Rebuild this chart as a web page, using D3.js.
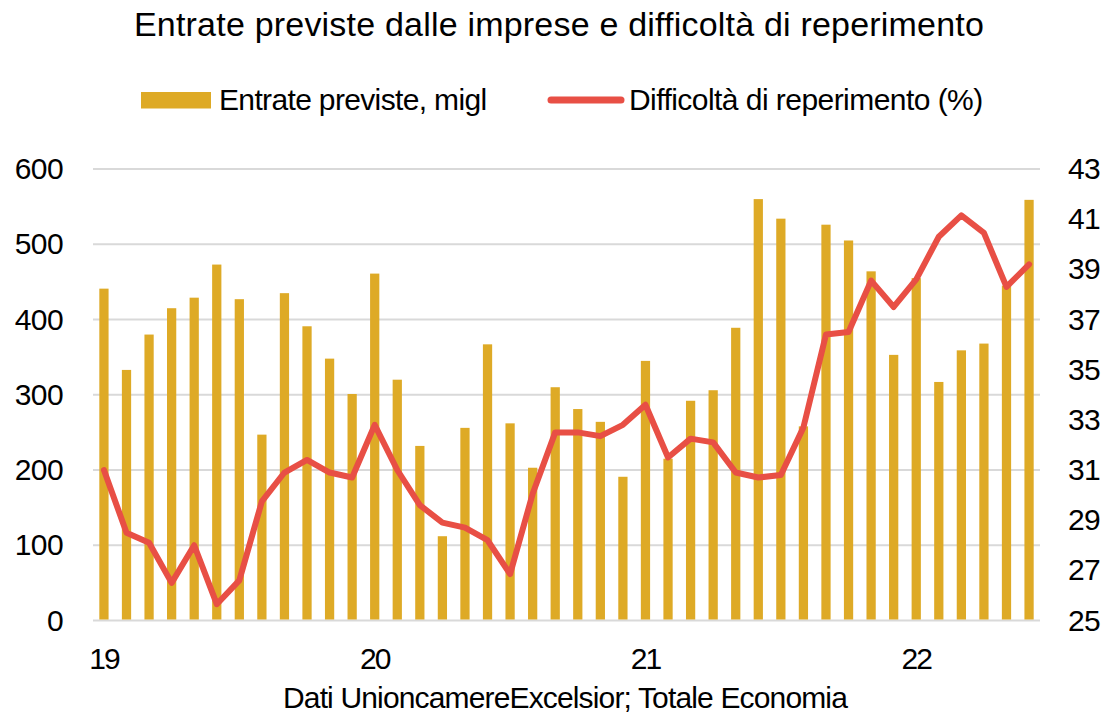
<!DOCTYPE html>
<html>
<head>
<meta charset="utf-8">
<script src="https://cdn.jsdelivr.net/npm/d3@7"></script>
<style>
  body { margin: 0; background: #fff; }
  svg text { font-family: "Liberation Sans", Arial, sans-serif; fill: #000; }
</style>
</head>
<body>
<div id="graph"></div>
<script>
// months, Jan 2019 .. Jun 2022
var months = [
  "2019-01","2019-02","2019-03","2019-04","2019-05","2019-06","2019-07","2019-08","2019-09","2019-10","2019-11","2019-12",
  "2020-01","2020-02","2020-03","2020-04","2020-05","2020-06","2020-07","2020-08","2020-09","2020-10","2020-11","2020-12",
  "2021-01","2021-02","2021-03","2021-04","2021-05","2021-06","2021-07","2021-08","2021-09","2021-10","2021-11","2021-12",
  "2022-01","2022-02","2022-03","2022-04","2022-05","2022-06"
];

// Entrate previste, migl
var entrate = [
  441, 333, 380, 415, 429, 473, 427, 247, 435, 391, 348, 301,
  461, 320, 232, 112, 256, 367, 262, 203, 310, 281, 264, 191,
  345, 215, 292, 306, 389, 560, 534, 258, 526, 505, 464, 353,
  455, 317, 359, 368, 445, 559
];

// Difficolta di reperimento (%)
var difficolta = [
  31.0, 28.5, 28.1, 26.5, 28.0, 25.65, 26.6, 29.75, 30.9, 31.4, 30.9, 30.7,
  32.8, 31.0, 29.6, 28.9, 28.7, 28.2, 26.85, 30.05, 32.5, 32.5, 32.35, 32.8,
  33.6, 31.5, 32.25, 32.1, 30.9, 30.7, 30.8, 32.7, 36.4, 36.5, 38.55, 37.5,
  38.6, 40.3, 41.15, 40.45, 38.3, 39.2
];

var xTickMonths = ["2019-01", "2020-01", "2021-01", "2022-01"];
var xTickLabels = ["19", "20", "21", "22"];
var leftTicks = [0, 100, 200, 300, 400, 500, 600];
var rightTicks = [25, 27, 29, 31, 33, 35, 37, 39, 41, 43];

var title = "Entrate previste dalle imprese e difficoltà di reperimento";
var legendBar = "Entrate previste, migl";
var legendLine = "Difficoltà di reperimento (%)";
var source = "Dati UnioncamereExcelsior; Totale Economia";

var width = 1105, height = 720;
var plot = { left: 93, right: 1040, top: 169, bottom: 620.5 };
var barColor = "#DEAA26";
var lineColor = "#E84F45";
var gridColor = "#D9D9D9";
var labelFont = "30px";

var svg = d3.select("#graph").append("svg")
    .attr("width", width)
    .attr("height", height);

var xScale = d3.scaleBand()
    .domain(months)
    .range([plot.left, plot.right])
    .paddingInner(0.59)
    .paddingOuter(0.28);

var yLeft = d3.scaleLinear()
    .domain([0, 600])
    .range([plot.bottom, plot.top]);

var yRight = d3.scaleLinear()
    .domain([25, 43])
    .range([plot.bottom, plot.top]);

// Horizontal grid lines
svg.selectAll("line.horizontalGrid")
    .data(leftTicks)
    .enter()
    .append("line")
    .attr("class", "horizontalGrid")
    .attr("x1", plot.left)
    .attr("x2", plot.right)
    .attr("y1", function(d){ return yLeft(d); })
    .attr("y2", function(d){ return yLeft(d); })
    .attr("stroke", gridColor)
    .attr("stroke-width", 2);

// Bars
svg.selectAll("rect.bar")
    .data(entrate)
    .enter()
    .append("rect")
    .attr("class", "bar")
    .attr("x", function(d, i){ return xScale(months[i]); })
    .attr("width", xScale.bandwidth())
    .attr("y", function(d){ return yLeft(d); })
    .attr("height", function(d){ return yLeft(0) - yLeft(d) - 1; })
    .attr("fill", barColor);

// Line
var line = d3.line()
    .x(function(d, i){ return xScale(months[i]) + xScale.bandwidth() / 2; })
    .y(function(d){ return yRight(d); });

svg.append("path")
    .datum(difficolta)
    .attr("d", line)
    .attr("fill", "none")
    .attr("stroke", lineColor)
    .attr("stroke-width", 6)
    .attr("stroke-linejoin", "round")
    .attr("stroke-linecap", "round");

// Left axis
var leftAxis = svg.append("g")
    .attr("transform", "translate(" + plot.left + ",0)")
    .call(d3.axisLeft(yLeft).tickValues(leftTicks).tickSize(0).tickPadding(30));
leftAxis.select(".domain").remove();
leftAxis.selectAll("text")
    .style("font-size", labelFont)
    .style("letter-spacing", "-0.6px")
    .style("font-family", "Liberation Sans, Arial, sans-serif");

// Right axis
var rightAxis = svg.append("g")
    .attr("transform", "translate(" + plot.right + ",0)")
    .call(d3.axisRight(yRight).tickValues(rightTicks).tickSize(0).tickPadding(28));
rightAxis.select(".domain").remove();
rightAxis.selectAll("text")
    .style("font-size", labelFont)
    .style("letter-spacing", "-0.6px")
    .style("font-family", "Liberation Sans, Arial, sans-serif");

// X axis labels
svg.selectAll("text.xlabel")
    .data(xTickMonths)
    .enter()
    .append("text")
    .attr("class", "xlabel")
    .attr("x", function(d){ return xScale(d) + xScale.bandwidth() / 2; })
    .attr("y", 669)
    .style("text-anchor", "middle")
    .style("font-size", labelFont)
    .style("letter-spacing", "-2px")
    .text(function(d, i){ return xTickLabels[i]; });

// Title
svg.append("text")
    .attr("x", 559)
    .attr("y", 36)
    .style("text-anchor", "middle")
    .style("font-size", "34px")
    .style("letter-spacing", "0.2px")
    .text(title);

// Legend
svg.append("rect")
    .attr("x", 141)
    .attr("y", 92)
    .attr("width", 70)
    .attr("height", 16.5)
    .attr("fill", barColor);

svg.append("text")
    .attr("x", 219)
    .attr("y", 110)
    .style("font-size", labelFont)
    .style("letter-spacing", "-0.65px")
    .text(legendBar);

svg.append("line")
    .attr("x1", 551)
    .attr("x2", 621)
    .attr("y1", 100)
    .attr("y2", 100)
    .attr("stroke", lineColor)
    .attr("stroke-width", 7)
    .attr("stroke-linecap", "round");

svg.append("text")
    .attr("x", 629)
    .attr("y", 110)
    .style("font-size", labelFont)
    .style("letter-spacing", "-0.55px")
    .text(legendLine);

// Source
svg.append("text")
    .attr("x", 565)
    .attr("y", 708)
    .style("text-anchor", "middle")
    .style("font-size", labelFont)
    .style("letter-spacing", "-0.85px")
    .text(source);
</script>
</body>
</html>
